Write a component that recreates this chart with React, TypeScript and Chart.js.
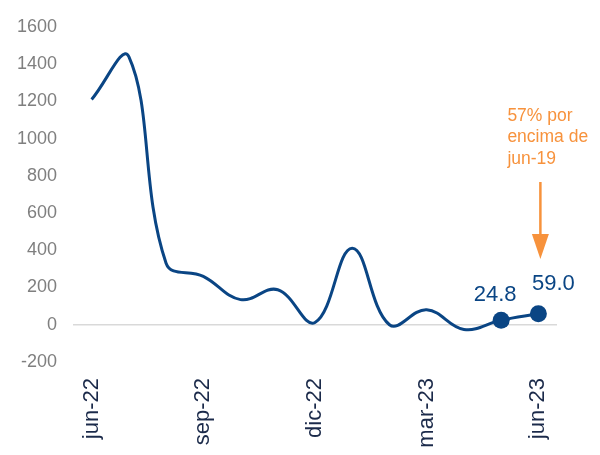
import React, { useEffect, useRef } from "react";
import { Chart, registerables } from "chart.js";

Chart.register(...registerables);

const months = [
  "jun-22", "jul-22", "ago-22", "sep-22", "oct-22", "nov-22", "dic-22",
  "ene-23", "feb-23", "mar-23", "abr-23", "may-23", "jun-23",
];
const shownTicks = ["jun-22", "sep-22", "dic-22", "mar-23", "jun-23"];
const values = [1210, 1440, 330, 260, 135, 188, 12, 411, 0, 81, -25, 24.8, 59.0];
const labelledIndices = [11, 12];
const annotationLines = ["57% por", "encima de", "jun-19"];

const BLUE = "#0A4584";
const ORANGE = "#F7923C";
const FONT = "'Liberation Sans', Arial, sans-serif";

export default function App() {
  const ref = useRef<HTMLCanvasElement | null>(null);

  useEffect(() => {
    document.body.style.margin = "0";
    const canvas = ref.current;
    if (!canvas) return;

    const overlay = {
      id: "overlay",
      afterDatasetsDraw(chart: any) {
        const ctx = chart.ctx;
        const pts = chart.getDatasetMeta(0).data;
        ctx.save();
        // value labels
        ctx.fillStyle = BLUE;
        ctx.font = `22px ${FONT}`;
        ctx.textAlign = "center";
        ctx.textBaseline = "alphabetic";
        const [iMay, iJun] = labelledIndices;
        ctx.fillText(values[iMay].toFixed(1), pts[iMay].x - 6, pts[iMay].y - 19);
        ctx.fillText(values[iJun].toFixed(1), pts[iJun].x + 15, pts[iJun].y - 24);

        // annotation
        const ax = pts[iJun].x;
        ctx.fillStyle = ORANGE;
        ctx.font = `17.5px ${FONT}`;
        ctx.textAlign = "left";
        const baselines = [120.5, 142, 163.5];
        annotationLines.forEach((t, i) => ctx.fillText(t, ax - 31, baselines[i]));

        // arrow
        const lx = ax + 2;
        ctx.strokeStyle = ORANGE;
        ctx.lineWidth = 2.5;
        ctx.beginPath();
        ctx.moveTo(lx, 182);
        ctx.lineTo(lx, 238);
        ctx.stroke();
        ctx.beginPath();
        ctx.moveTo(lx - 8.5, 234);
        ctx.lineTo(lx + 8.5, 234);
        ctx.lineTo(lx, 259);
        ctx.closePath();
        ctx.fill();
        ctx.restore();
      },
    };

    const chart = new Chart(canvas, {
      type: "line",
      data: {
        labels: months,
        datasets: [
          {
            data: values,
            borderColor: BLUE,
            backgroundColor: BLUE,
            borderWidth: 3,
            tension: 0.4,
            pointRadius: values.map((_, i) => (labelledIndices.includes(i) ? 8.5 : 0)),
            pointHoverRadius: values.map((_, i) => (labelledIndices.includes(i) ? 8.5 : 0)),
            pointBackgroundColor: BLUE,
            pointBorderWidth: 0,
            clip: false as any,
          },
        ],
      },
      options: {
        responsive: false,
        animation: false,
        events: [],
        layout: { padding: { left: 0, top: 22, right: 43, bottom: 0 } },
        plugins: { legend: { display: false }, tooltip: { enabled: false } },
        scales: {
          x: {
            type: "category",
            offset: true,
            grid: { display: false, drawTicks: false },
            border: { display: false },
            ticks: {
              autoSkip: false,
              maxRotation: 90,
              minRotation: 90,
              padding: 16,
              color: "#1b2a4a",
              font: { family: FONT, size: 22 },
              callback: (v: any, i: number) => (shownTicks.includes(months[i]) ? months[i] : ""),
            },
            afterFit: (s: any) => {
              s.height = 93;
            },
          },
          y: {
            min: -200,
            max: 1600,
            border: { display: false },
            grid: {
              drawTicks: false,
              color: (c: any) => (c.tick && c.tick.value === 0 ? "#d9d9d9" : "rgba(0,0,0,0)"),
              lineWidth: 1.5,
            },
            ticks: {
              stepSize: 200,
              padding: 16,
              color: "#7f7f7f",
              font: { family: FONT, size: 18 },
              callback: (v: any) => String(v),
            },
            afterFit: (s: any) => {
              s.width = 73;
            },
          },
        },
      },
      plugins: [overlay],
    });

    return () => chart.destroy();
  }, []);

  return (
    <div style={{ width: 600, height: 455 }}>
      <canvas ref={ref} width={600} height={455} style={{ display: "block", width: 600, height: 455 }} />
    </div>
  );
}
